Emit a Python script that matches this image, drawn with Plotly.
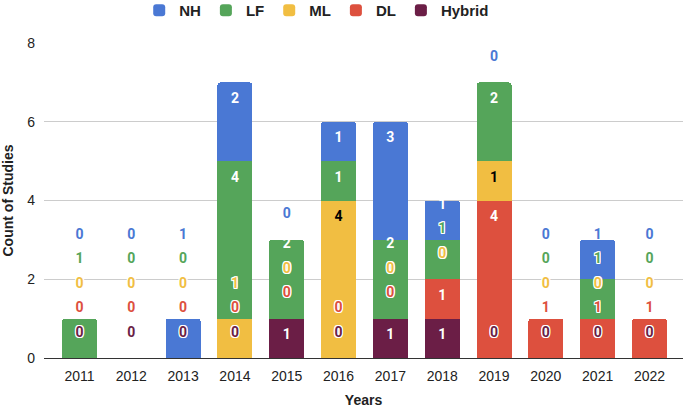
import plotly.graph_objects as go

# ---- data ----
years = ["2011", "2012", "2013", "2014", "2015", "2016", "2017", "2018", "2019", "2020", "2021", "2022"]
nh = [0, 0, 1, 2, 0, 1, 3, 1, 0, 0, 1, 0]
lf = [1, 0, 0, 4, 2, 1, 2, 1, 2, 0, 1, 0]
ml = [0, 0, 0, 1, 0, 4, 0, 0, 1, 0, 0, 0]
dl = [0, 0, 0, 0, 0, 0, 0, 1, 4, 1, 1, 1]
hybrid = [0, 0, 0, 0, 1, 0, 1, 1, 0, 0, 0, 0]

colors = {"NH": "#4a78d4", "LF": "#55a55a", "ML": "#f1be42", "DL": "#dd503e", "Hybrid": "#6b1e46"}
inside_text = {"NH": "white", "LF": "white", "ML": "black", "DL": "white", "Hybrid": "white"}

# bottom-to-top stacking order
series = [("Hybrid", hybrid), ("DL", dl), ("ML", ml), ("LF", lf), ("NH", nh)]

fig = go.Figure()
for name, vals in series:
    fig.add_trace(go.Bar(
        x=years, y=vals, name=name,
        marker=dict(color=colors[name], line=dict(width=0)),
        hoverinfo="skip",
    ))

# ---- data labels (Google-Sheets-like placement) ----
IN_OFF = 0.43    # label below segment top when inside
OUT_OFF = 0.635  # label above top for zero segments
SPACING = 0.62   # minimum spacing between labels

in_x, in_y, in_t, in_c = [], [], [], []
out_x, out_y, out_t, out_c = [], [], [], []
for i, yr in enumerate(years):
    base = 0.0
    prev = -1e9
    for name, vals in series:
        v = vals[i]
        top = base + v
        desired = top - IN_OFF if v > 0 else top + OUT_OFF
        y = max(desired, prev + SPACING)
        prev = y
        if v > 0 and base <= y <= top:
            in_x.append(yr); in_y.append(y); in_t.append(str(v)); in_c.append(inside_text[name])
        else:
            out_x.append(yr); out_y.append(y); out_t.append(str(v)); out_c.append(colors[name])
        base = top

label_font = dict(family="Roboto, Arial, sans-serif", size=14, weight="bold")
fig.add_trace(go.Scatter(
    x=in_x, y=in_y, text=in_t, mode="text", showlegend=False, hoverinfo="skip",
    textfont=dict(**label_font, color=in_c), cliponaxis=False,
))
shadow = ("1px 1px 0 #fff, -1px -1px 0 #fff, 1px -1px 0 #fff, -1px 1px 0 #fff, "
          "0 1px 0 #fff, 1px 0 0 #fff, 0 -1px 0 #fff, -1px 0 0 #fff")
fig.add_trace(go.Scatter(
    x=out_x, y=out_y, text=out_t, mode="text", showlegend=False, hoverinfo="skip",
    textfont=dict(**label_font, color=out_c, shadow=shadow), cliponaxis=False,
))

axis_font = dict(family="Liberation Sans, Arial, sans-serif", size=14, color="#222222")
title_font = dict(family="Liberation Sans, Arial, sans-serif", size=14, color="#222222", weight="bold")

fig.update_layout(
    width=685, height=408,
    margin=dict(l=44, r=2, t=43, b=50, autoexpand=False),
    barmode="stack", bargap=0.325, barcornerradius=3,
    plot_bgcolor="white", paper_bgcolor="white",
    showlegend=True,
    legend=dict(
        orientation="h", traceorder="reversed",
        x=0.149, xanchor="left", y=0.974, yanchor="middle", yref="container",
        font=dict(family="Liberation Sans, Arial, sans-serif", size=15, color="#222222", weight="bold"),
        bgcolor="rgba(0,0,0,0)",
    ),
    xaxis=dict(
        type="category", range=[-0.685, 11.647], automargin=False,
        showgrid=False, showline=False, ticks="",
        tickfont=axis_font, ticklabelstandoff=8,
        title=dict(text="Years", font=title_font, standoff=13),
    ),
    yaxis=dict(
        range=[0, 8], tickvals=[0, 2, 4, 6, 8], automargin=False,
        showgrid=True, gridcolor="#cccccc", gridwidth=1,
        zeroline=True, zerolinecolor="#333333", zerolinewidth=1,
        showline=False, ticks="",
        tickfont=axis_font, ticklabelstandoff=8,
        title=dict(text="Count of Studies", font=title_font, standoff=11),
    ),
)

fig.write_html(
    "out.html",
    config={"displayModeBar": False},
    post_script="document.body.style.margin='0';document.body.style.overflow='hidden';",
)
